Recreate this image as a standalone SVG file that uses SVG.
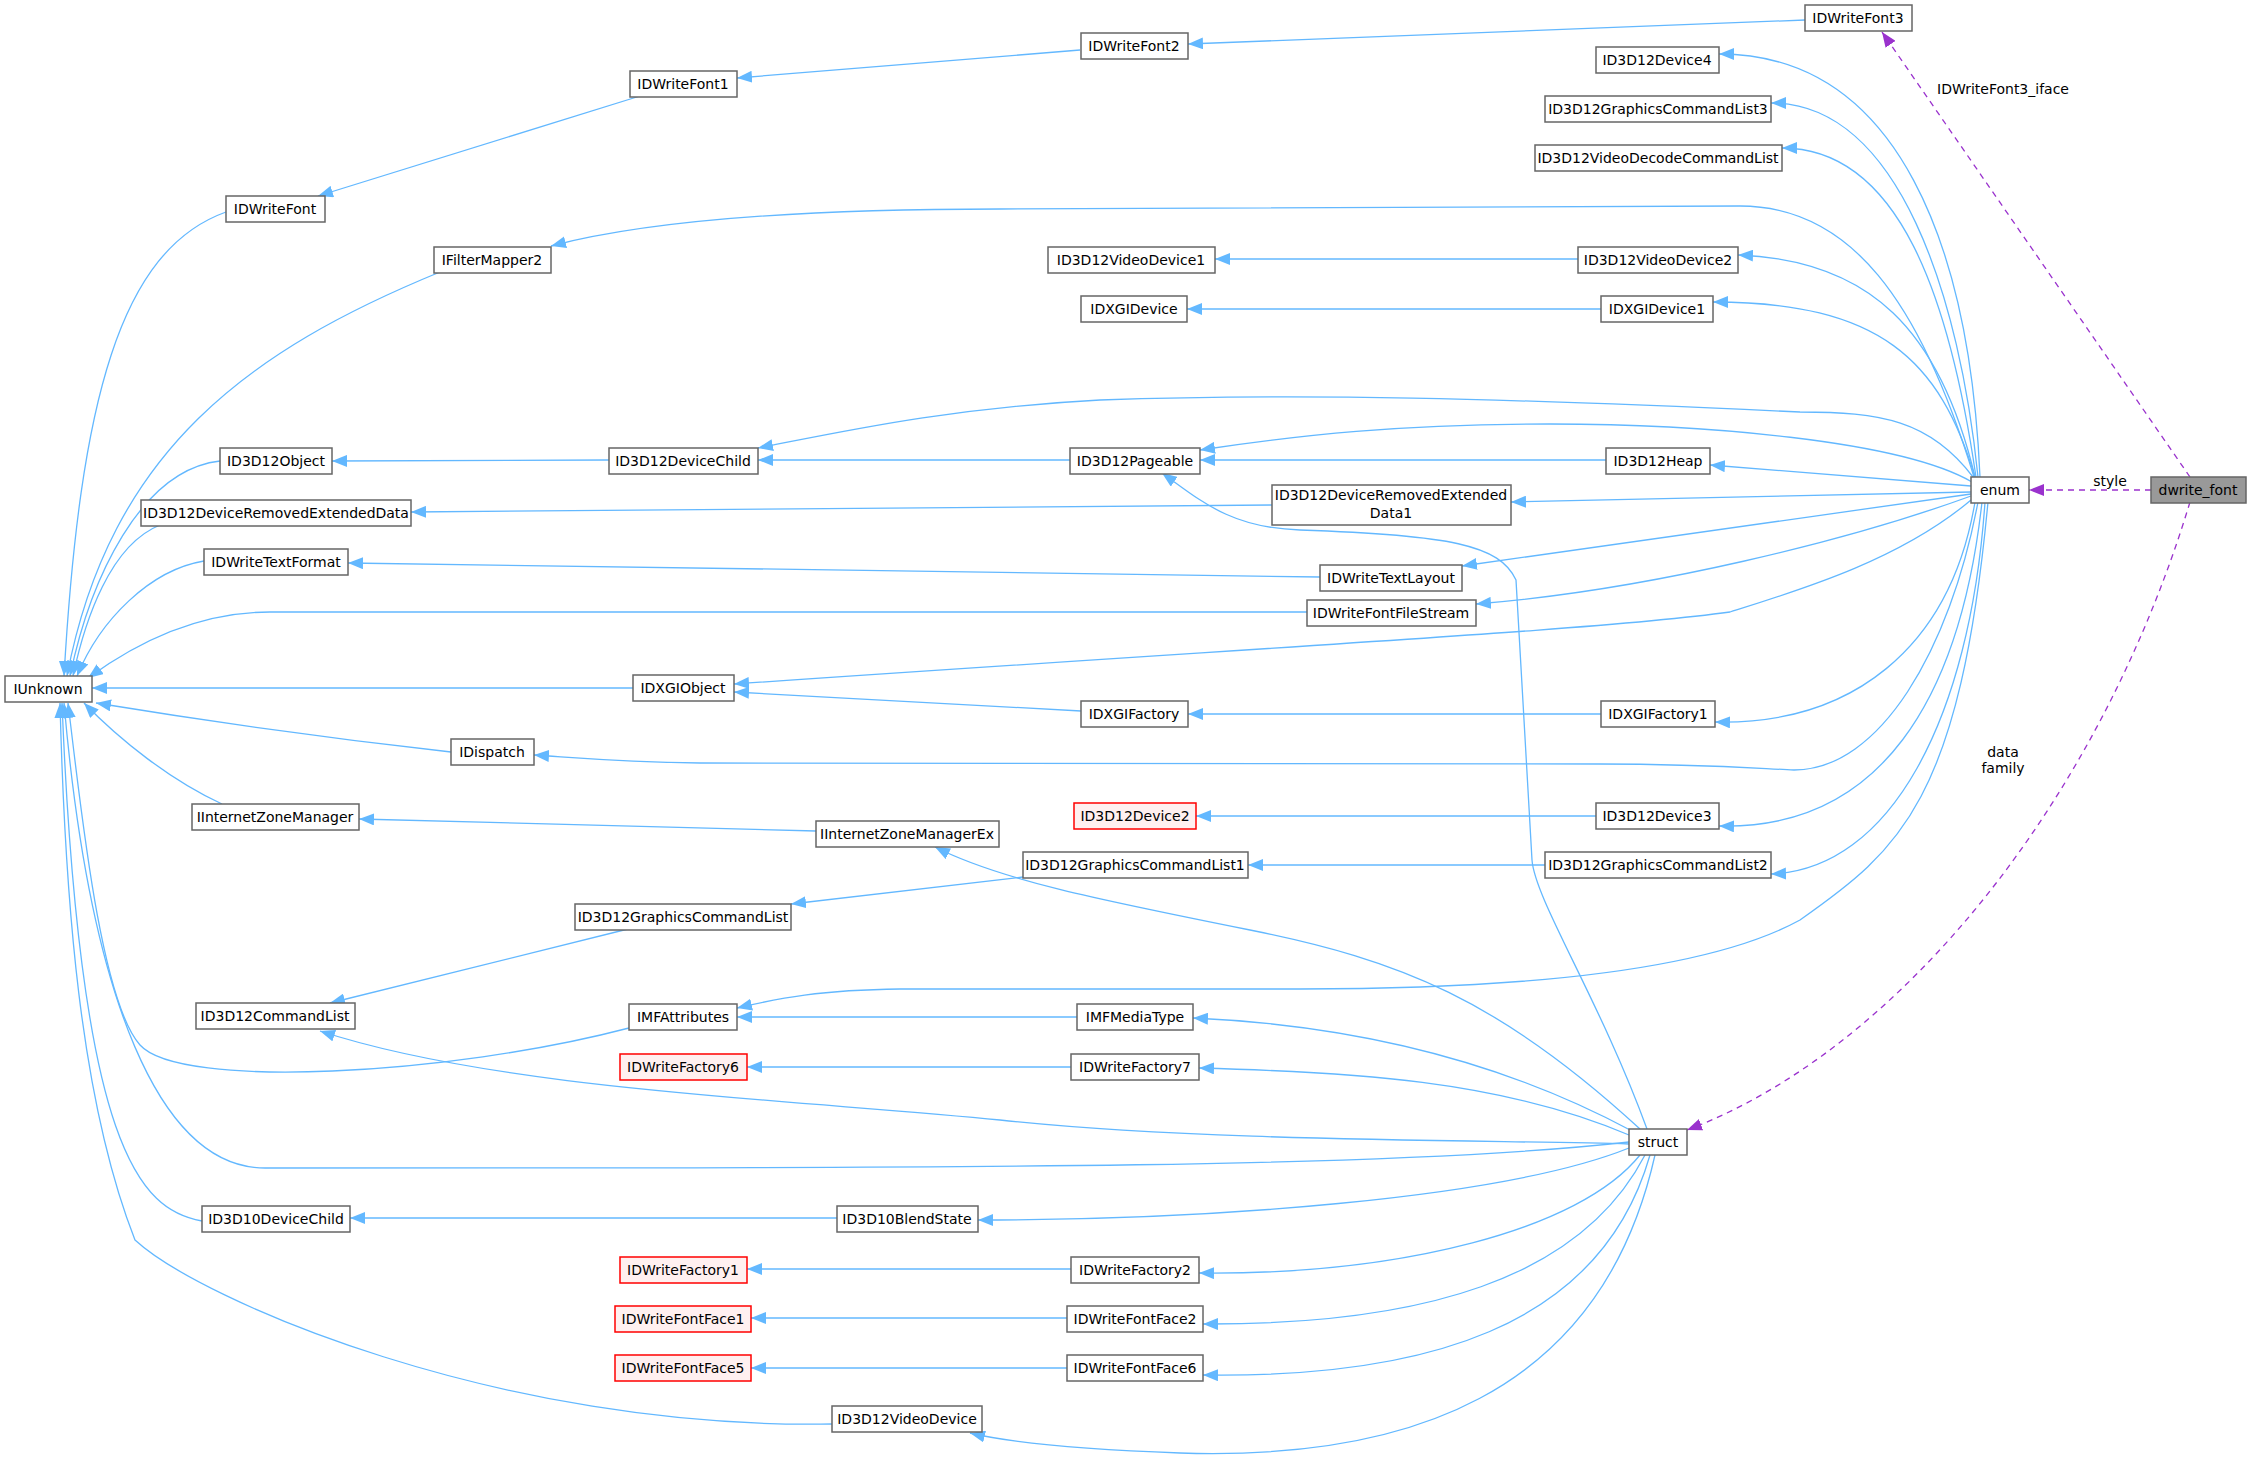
<svg xmlns="http://www.w3.org/2000/svg" width="2252" height="1459" viewBox="0 0 2252 1459">
<style>
.n rect{fill:#fff;stroke:#666;stroke-width:1.5}
.r rect{fill:#fff0f0;stroke:#ff0000}
.g rect{fill:#999}
text{font-family:"DejaVu Sans",sans-serif;font-size:14px;text-anchor:middle;fill:#000}
.e path{fill:none;stroke:#63b8ff;stroke-width:1.3;marker-end:url(#a)}
.d path{fill:none;stroke:#9a32cd;stroke-width:1.3;stroke-dasharray:6,5;marker-end:url(#p)}
.lbl{font-size:14px}
</style>
<defs>
<marker id="a" markerWidth="16" markerHeight="12" refX="15" refY="6" orient="auto" markerUnits="userSpaceOnUse"><path d="M0,0 L15,6 L0,12 z" fill="#63b8ff"/></marker>
<marker id="p" markerWidth="16" markerHeight="12" refX="15" refY="6" orient="auto" markerUnits="userSpaceOnUse"><path d="M0,0 L15,6 L0,12 z" fill="#9a32cd"/></marker>
</defs>
<rect width="2252" height="1459" fill="#fff"/>
<g id="edges">
<g class="e">
<path d="M1805 20 L1188 44"/>
<path d="M1080 50 L737 78"/>
<path d="M640 96 L318 196"/>
<path d="M226 212 C120 250, 80 400, 64 676"/>
<path d="M440 272 C250 350, 110 450, 67 676"/>
<path d="M220 461 C140 470, 90 580, 70 676"/>
<path d="M160 525 C110 545, 85 620, 73 676"/>
<path d="M204 561 C150 570, 100 620, 77 676"/>
<path d="M1307 612 L270 612 C200 612, 140 640, 88 678"/>
<path d="M633 688 L92 688"/>
<path d="M451 752 C300 735, 200 720, 96 703"/>
<path d="M222 804 C170 780, 120 740, 84 703"/>
<path d="M629 1028 C450 1075, 180 1090, 140 1045 C100 1000, 80 800, 68 703"/>
<path d="M1629 1142 C1400 1168, 1000 1168, 265 1168 C160 1168, 90 1000, 64 703"/>
<path d="M202 1221 C140 1210, 80 1150, 62 703"/>
<path d="M832 1424 C500 1430, 200 1300, 135 1240 C80 1100, 65 900, 60 703"/>
<path d="M1980 477 C1970 250, 1900 54, 1719 54"/>
<path d="M1978 477 C1960 300, 1900 103, 1771 103"/>
<path d="M1976 477 C1950 300, 1900 148, 1782 148"/>
<path d="M1974 477 C1920 300, 1850 206, 1740 206 L1000 209 C800 209, 650 220, 551 246"/>
<path d="M1975 477 C1940 330, 1870 260, 1738 255"/>
<path d="M1975 477 C1940 360, 1880 302, 1713 302"/>
<path d="M1973 477 C1930 420, 1880 412, 1800 412 C1500 398, 1300 393, 1100 400 C950 408, 850 430, 758 448"/>
<path d="M1972 482 C1900 440, 1700 424, 1550 424 C1400 424, 1300 435, 1200 450"/>
<path d="M1971 486 L1710 465"/>
<path d="M1971 492 L1511 502"/>
<path d="M1971 494 L1462 566"/>
<path d="M1971 496 C1850 540, 1650 590, 1476 604"/>
<path d="M1971 500 C1900 560, 1800 590, 1730 612 C1600 630, 1300 645, 734 684"/>
<path d="M1975 502 C1950 650, 1850 725, 1715 722"/>
<path d="M1978 502 C1950 650, 1880 770, 1794 770 C1750 768, 1700 764, 1600 764 L700 763 C620 762, 580 758, 534 755"/>
<path d="M1982 502 C1960 700, 1880 830, 1719 826"/>
<path d="M1985 502 C1970 720, 1890 870, 1771 874"/>
<path d="M1988 502 C1960 800, 1900 850, 1800 920 C1700 975, 1500 989, 1300 989 L900 989 C820 990, 780 998, 737 1008"/>
<path d="M1647 1129 C1600 1000, 1535 900, 1532 860 L1516 580 C1500 545, 1450 535, 1300 530 C1230 528, 1200 500, 1162 473"/>
<path d="M1640 1129 C1500 1000, 1400 960, 1250 930 C1100 900, 1000 880, 935 847"/>
<path d="M1632 1131 C1500 1060, 1350 1025, 1193 1018"/>
<path d="M1629 1135 C1500 1080, 1350 1072, 1199 1068"/>
<path d="M1629 1144 C1500 1140, 1200 1142, 1000 1120 C800 1100, 500 1090, 320 1031"/>
<path d="M1629 1148 C1500 1200, 1200 1220, 978 1220"/>
<path d="M1640 1155 C1580 1230, 1400 1275, 1199 1273"/>
<path d="M1645 1155 C1580 1280, 1420 1325, 1203 1324"/>
<path d="M1650 1155 C1600 1330, 1420 1378, 1203 1375"/>
<path d="M1655 1155 C1600 1400, 1400 1460, 1180 1453 C1100 1450, 1020 1445, 970 1433"/>
<path d="M609 460 L332 461"/>
<path d="M1070 460 L758 460"/>
<path d="M1606 460 L1200 460"/>
<path d="M1272 505 L411 512"/>
<path d="M1320 577 L348 563"/>
<path d="M1081 711 L734 692"/>
<path d="M1601 714 L1188 714"/>
<path d="M1578 259 L1215 259"/>
<path d="M1601 309 L1187 309"/>
<path d="M816 831 L359 819"/>
<path d="M1596 816 L1196 816"/>
<path d="M1545 865 L1248 865"/>
<path d="M1023 877 L791 904"/>
<path d="M628 929 L330 1003"/>
<path d="M1077 1017 L737 1017"/>
<path d="M1071 1067 L747 1067"/>
<path d="M837 1218 L350 1218"/>
<path d="M1071 1269 L747 1269"/>
<path d="M1067 1318 L751 1318"/>
<path d="M1067 1368 L751 1368"/>
</g>
<g class="d">
<path d="M2190 477 L1882 32"/>
<path d="M2151 490 L2029 490"/>
<path d="M2190 502 C2100 800, 1900 1050, 1687 1130"/>
</g>
<text class="lbl" x="2003" y="94">IDWriteFont3_iface</text>
<text class="lbl" x="2110" y="486">style</text>
<text class="lbl" x="2003" y="757">data</text>
<text class="lbl" x="2003" y="773">family</text>
</g>
<g id="IDWriteFont3" class="n"><rect x="1805" y="5" width="107" height="26"/><text x="1858" y="23">IDWriteFont3</text></g>
<g id="IDWriteFont2" class="n"><rect x="1081" y="33" width="107" height="26"/><text x="1134" y="51">IDWriteFont2</text></g>
<g id="IDWriteFont1" class="n"><rect x="630" y="71" width="107" height="26"/><text x="683" y="89">IDWriteFont1</text></g>
<g id="IDWriteFont" class="n"><rect x="226" y="196" width="99" height="26"/><text x="275" y="214">IDWriteFont</text></g>
<g id="IFilterMapper2" class="n"><rect x="434" y="247" width="117" height="26"/><text x="492" y="265">IFilterMapper2</text></g>
<g id="ID3D12Device4" class="n"><rect x="1596" y="47" width="123" height="26"/><text x="1657" y="65">ID3D12Device4</text></g>
<g id="ID3D12GraphicsCommandList3" class="n"><rect x="1545" y="96" width="226" height="26"/><text x="1658" y="114">ID3D12GraphicsCommandList3</text></g>
<g id="ID3D12VideoDecodeCommandList" class="n"><rect x="1535" y="145" width="247" height="26"/><text x="1658" y="163">ID3D12VideoDecodeCommandList</text></g>
<g id="ID3D12VideoDevice1" class="n"><rect x="1048" y="247" width="167" height="26"/><text x="1131" y="265">ID3D12VideoDevice1</text></g>
<g id="ID3D12VideoDevice2" class="n"><rect x="1578" y="247" width="160" height="26"/><text x="1658" y="265">ID3D12VideoDevice2</text></g>
<g id="IDXGIDevice" class="n"><rect x="1081" y="296" width="106" height="26"/><text x="1134" y="314">IDXGIDevice</text></g>
<g id="IDXGIDevice1" class="n"><rect x="1601" y="296" width="112" height="26"/><text x="1657" y="314">IDXGIDevice1</text></g>
<g id="ID3D12Object" class="n"><rect x="220" y="448" width="112" height="26"/><text x="276" y="466">ID3D12Object</text></g>
<g id="ID3D12DeviceChild" class="n"><rect x="609" y="448" width="149" height="26"/><text x="683" y="466">ID3D12DeviceChild</text></g>
<g id="ID3D12Pageable" class="n"><rect x="1070" y="448" width="130" height="26"/><text x="1135" y="466">ID3D12Pageable</text></g>
<g id="ID3D12Heap" class="n"><rect x="1606" y="448" width="104" height="26"/><text x="1658" y="466">ID3D12Heap</text></g>
<g id="ID3D12DeviceRemovedExtendedData" class="n"><rect x="141" y="500" width="270" height="26"/><text x="276" y="518">ID3D12DeviceRemovedExtendedData</text></g>
<g id="ID3D12DeviceRemovedExtendedData1" class="n"><rect x="1272" y="485" width="239" height="40"/><text x="1391" y="500">ID3D12DeviceRemovedExtended</text><text x="1391" y="518">Data1</text></g>
<g id="IDWriteTextFormat" class="n"><rect x="204" y="549" width="144" height="26"/><text x="276" y="567">IDWriteTextFormat</text></g>
<g id="IDWriteTextLayout" class="n"><rect x="1320" y="565" width="142" height="26"/><text x="1391" y="583">IDWriteTextLayout</text></g>
<g id="IDWriteFontFileStream" class="n"><rect x="1307" y="600" width="169" height="26"/><text x="1391" y="618">IDWriteFontFileStream</text></g>
<g id="IUnknown" class="n"><rect x="5" y="676" width="87" height="26"/><text x="48" y="694">IUnknown</text></g>
<g id="IDXGIObject" class="n"><rect x="633" y="675" width="101" height="26"/><text x="683" y="693">IDXGIObject</text></g>
<g id="IDXGIFactory" class="n"><rect x="1081" y="701" width="107" height="26"/><text x="1134" y="719">IDXGIFactory</text></g>
<g id="IDXGIFactory1" class="n"><rect x="1601" y="701" width="114" height="26"/><text x="1658" y="719">IDXGIFactory1</text></g>
<g id="IDispatch" class="n"><rect x="451" y="739" width="83" height="26"/><text x="492" y="757">IDispatch</text></g>
<g id="IInternetZoneManager" class="n"><rect x="192" y="804" width="167" height="26"/><text x="275" y="822">IInternetZoneManager</text></g>
<g id="IInternetZoneManagerEx" class="n"><rect x="816" y="821" width="183" height="26"/><text x="907" y="839">IInternetZoneManagerEx</text></g>
<g id="ID3D12Device2" class="n r"><rect x="1074" y="803" width="122" height="26"/><text x="1135" y="821">ID3D12Device2</text></g>
<g id="ID3D12Device3" class="n"><rect x="1596" y="803" width="123" height="26"/><text x="1657" y="821">ID3D12Device3</text></g>
<g id="ID3D12GraphicsCommandList1" class="n"><rect x="1023" y="852" width="225" height="26"/><text x="1135" y="870">ID3D12GraphicsCommandList1</text></g>
<g id="ID3D12GraphicsCommandList2" class="n"><rect x="1545" y="852" width="226" height="26"/><text x="1658" y="870">ID3D12GraphicsCommandList2</text></g>
<g id="ID3D12GraphicsCommandList" class="n"><rect x="575" y="904" width="216" height="26"/><text x="683" y="922">ID3D12GraphicsCommandList</text></g>
<g id="ID3D12CommandList" class="n"><rect x="196" y="1003" width="159" height="26"/><text x="275" y="1021">ID3D12CommandList</text></g>
<g id="IMFAttributes" class="n"><rect x="629" y="1004" width="108" height="26"/><text x="683" y="1022">IMFAttributes</text></g>
<g id="IMFMediaType" class="n"><rect x="1077" y="1004" width="116" height="26"/><text x="1135" y="1022">IMFMediaType</text></g>
<g id="IDWriteFactory6" class="n r"><rect x="620" y="1054" width="127" height="26"/><text x="683" y="1072">IDWriteFactory6</text></g>
<g id="IDWriteFactory7" class="n"><rect x="1071" y="1054" width="128" height="26"/><text x="1135" y="1072">IDWriteFactory7</text></g>
<g id="struct" class="n"><rect x="1629" y="1129" width="58" height="26"/><text x="1658" y="1147">struct</text></g>
<g id="ID3D10DeviceChild" class="n"><rect x="202" y="1206" width="148" height="26"/><text x="276" y="1224">ID3D10DeviceChild</text></g>
<g id="ID3D10BlendState" class="n"><rect x="837" y="1206" width="141" height="26"/><text x="907" y="1224">ID3D10BlendState</text></g>
<g id="IDWriteFactory1" class="n r"><rect x="620" y="1257" width="127" height="26"/><text x="683" y="1275">IDWriteFactory1</text></g>
<g id="IDWriteFactory2" class="n"><rect x="1071" y="1257" width="128" height="26"/><text x="1135" y="1275">IDWriteFactory2</text></g>
<g id="IDWriteFontFace1" class="n r"><rect x="615" y="1306" width="136" height="26"/><text x="683" y="1324">IDWriteFontFace1</text></g>
<g id="IDWriteFontFace2" class="n"><rect x="1067" y="1306" width="136" height="26"/><text x="1135" y="1324">IDWriteFontFace2</text></g>
<g id="IDWriteFontFace5" class="n r"><rect x="615" y="1355" width="136" height="26"/><text x="683" y="1373">IDWriteFontFace5</text></g>
<g id="IDWriteFontFace6" class="n"><rect x="1067" y="1355" width="136" height="26"/><text x="1135" y="1373">IDWriteFontFace6</text></g>
<g id="ID3D12VideoDevice" class="n"><rect x="832" y="1406" width="150" height="26"/><text x="907" y="1424">ID3D12VideoDevice</text></g>
<g id="enum" class="n"><rect x="1971" y="477" width="58" height="26"/><text x="2000" y="495">enum</text></g>
<g id="dwrite_font" class="n g"><rect x="2151" y="477" width="95" height="26"/><text x="2198" y="495">dwrite_font</text></g>
</svg>
